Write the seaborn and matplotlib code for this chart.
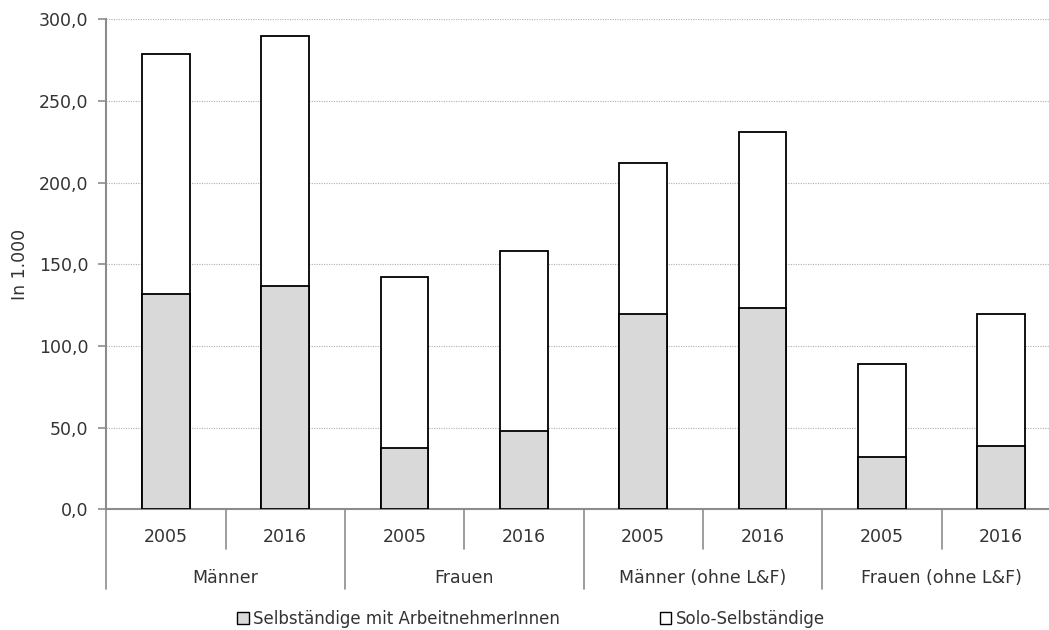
import matplotlib
matplotlib.use("Agg")
import matplotlib.pyplot as plt
from matplotlib.patches import Patch
from matplotlib.transforms import blended_transform_factory
import seaborn as sns
import pandas as pd

# Data (in 1.000)
groups = ["Männer", "Frauen", "Männer (ohne L&F)", "Frauen (ohne L&F)"]
years = ["2005", "2016"]
selb_mit_an = [131.8, 136.5, 37.7, 48.1, 119.4, 123.1, 32.2, 38.9]
solo_selb = [147.0, 153.5, 104.3, 110.1, 92.8, 107.9, 56.8, 80.5]
y_ticks = [0, 50, 100, 150, 200, 250, 300]

keys = [f"{g} {y}" for g in groups for y in years]
totals = [a + b for a, b in zip(selb_mit_an, solo_selb)]
df = pd.DataFrame({"key": keys, "mit": selb_mit_an, "total": totals})

sns.set_theme(style="white")
plt.rcParams["font.family"] = ["DejaVu Sans"]
text_color = "#333333"
axis_gray = "#8c8c8c"
fill_gray = "#d9d9d9"

fig = plt.figure(figsize=(10.49, 6.30), dpi=100)
ax = fig.add_axes([0.1013, 0.1916, 0.910, 0.7778])

# Stacked bars: full height in white, lower segment in gray on top
sns.barplot(data=df, x="key", y="total", order=keys, color="white",
            saturation=1, edgecolor="black", linewidth=1.3, width=0.4,
            errorbar=None, ax=ax, zorder=3)
sns.barplot(data=df, x="key", y="mit", order=keys, color=fill_gray,
            saturation=1, edgecolor="black", linewidth=1.3, width=0.4,
            errorbar=None, ax=ax, zorder=3)

ax.set_xlim(-0.5, len(keys) - 0.5)
ax.set_ylim(0, 300)
ax.set_yticks(y_ticks)
ax.set_yticklabels([f"{v:.1f}".replace(".", ",") for v in y_ticks])
ax.yaxis.grid(True, linestyle=(0, (1, 1.2)), color="#b0b0b0", linewidth=0.8, zorder=0)
ax.set_axisbelow(True)

for side in ["top", "right"]:
    ax.spines[side].set_visible(False)
for side in ["left", "bottom"]:
    ax.spines[side].set_color(axis_gray)
    ax.spines[side].set_linewidth(1.5)

ax.tick_params(axis="y", direction="out", length=6, width=1.2, color=axis_gray,
               labelsize=12.5, labelcolor=text_color, pad=7, left=True)
ax.set_xticks([])
ax.set_xlabel("")
ax.set_ylabel("In 1.000", fontsize=12.5, color=text_color, labelpad=7)

# Two-level category axis
trans = blended_transform_factory(ax.transData, ax.transAxes)
for i, k in enumerate(keys):
    ax.text(i, -0.057, years[i % 2], transform=trans, ha="center", va="center",
            fontsize=12.5, color=text_color)
for gi, g in enumerate(groups):
    ax.text(gi * 2 + 0.5, -0.141, g, transform=trans, ha="center", va="center",
            fontsize=12.5, color=text_color)
for i in range(len(keys) + 1):
    xpos = i - 0.5
    bottom = -0.163 if i % 2 == 0 else -0.082
    ax.plot([xpos, xpos], [0, bottom], transform=trans, color=axis_gray,
            linewidth=1.2, clip_on=False)

handles = [Patch(facecolor=fill_gray, edgecolor="black", linewidth=1.0,
                 label="Selbständige mit ArbeitnehmerInnen"),
           Patch(facecolor="white", edgecolor="black", linewidth=1.0,
                 label="Solo-Selbständige")]
fig.legend(handles=handles, loc="center", bbox_to_anchor=(0.506, 0.018), ncol=2,
           frameon=False, fontsize=12, handlelength=0.7, handleheight=0.7,
           handletextpad=0.25, columnspacing=6.0, labelcolor=text_color)

fig.savefig("out.png", dpi=100)
